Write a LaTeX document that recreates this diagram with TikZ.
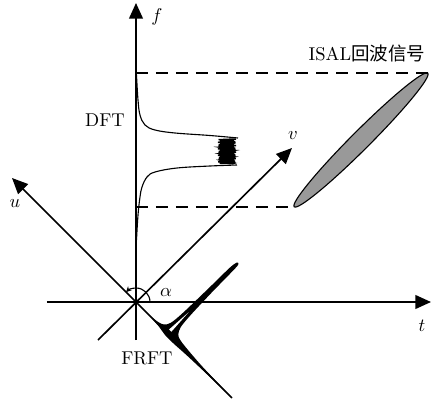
\documentclass[tikz,border=0pt]{standalone}
\usepackage{fontspec}
\newfontfamily\cjk{Noto Sans CJK SC}
\usepackage{tikz}
\usetikzlibrary{arrows.meta,shapes.geometric,calc}

\begin{document}
\begin{tikzpicture}[x=0.54pt, y=-0.54pt,
    axis/.style={line width=0.9pt, -{Triangle[length=8.5pt,width=7.5pt]}},
    guide/.style={line width=0.8pt, dash pattern=on 6.5pt off 4.3pt},
    lbl/.style={inner sep=0pt},
    curve/.style={line width=0.6pt},
  ]
    \useasboundingbox (0,0) rectangle (432,401);
    % axes
    \coordinate (O)    at (136,302);
    \coordinate (fbot) at (136,340);
    \coordinate (ftip) at (136,3);
    \coordinate (tbot) at (47,302);
    \coordinate (ttip) at (431,302);
    \coordinate (uend) at (232,398);
    \coordinate (utip) at (12,178);
    \coordinate (vend) at (98,340);
    \coordinate (vtip) at (292,148);
    \draw[axis] (fbot) -- (ftip);
    \draw[axis] (tbot) -- (ttip);
    \draw[axis] (uend) -- (utip);
    \draw[axis] (vend) -- (vtip);
    \node[lbl] (flbl) at (157,17)  {$f$};
    \node[lbl] (tlbl) at (422,326) {$t$};
    \node[lbl] (ulbl) at (15,204)  {$u$};
    \node[lbl] (vlbl) at (293,136) {$v$};
    % rotation angle
    \draw[line width=0.6pt, -{Stealth[length=3pt,width=3pt]}] ($(O)+(14,0)$) arc[start angle=0, end angle=-135, radius=14];
    \node[lbl] (albl) at (166,293) {$\alpha$};
    % echo in the t-f plane
    \node[draw, line width=0.6pt, fill=black!40, ellipse, inner sep=0pt,
          minimum width=102pt, minimum height=10pt, rotate=45] (echo) at (361,140) {};
    \draw[guide] (echo.east -| O) -- (echo.east);
    \draw[guide] (echo.west -| O) -- (echo.west);
    \node[lbl] (isal) at (367,53) {ISAL{\cjk 回波信号}};
    % DFT spectrum
    \draw[curve] plot[smooth, tension=0.6] coordinates {(136.5,75) (138,100) (140,115) (145,125) (155,130) (175,133) (210,135.5) (238,138)};
    \draw[curve] plot[smooth, tension=0.6] coordinates {(237,165) (210,166) (177,168) (155,172) (147,177) (142,187) (140,197) (138,215) (136.5,240)};
    \draw[line width=0.8pt] plot[domain=0:1, samples=70] ({227+9*cos(\x*6900)}, {139+25*\x});
    \node[lbl] (dft) at (105,120) {DFT};
    % FRFT spectrum along u
    \begin{scope}[shift={(167,333)}, x={(0.382pt,-0.382pt)}, y={(0.382pt,0.382pt)}]
      \fill plot[smooth, tension=0.5] coordinates {(-26,0) (-14,1.5) (-8,4) (-4.5,10) (-3,25) (-2.2,60) (-1.8,90) (-0.5,99) (1.5,99.5) (2.5,94) (3,60) (4,30) (5.5,14) (9,7) (14,4.5) (25,3) (50,1.2) (92,0) (60,-0.8) (30,-1.8) (12,-2.8) (0,-2.8) (-10,-1.2) (-26,0)} -- cycle;
      \fill[white] (-1,4) -- (0.6,30) -- (2.2,4) -- cycle;
    \end{scope}
    \node[lbl] (frft) at (147,358) {FRFT};
  \end{tikzpicture}
\end{document}
